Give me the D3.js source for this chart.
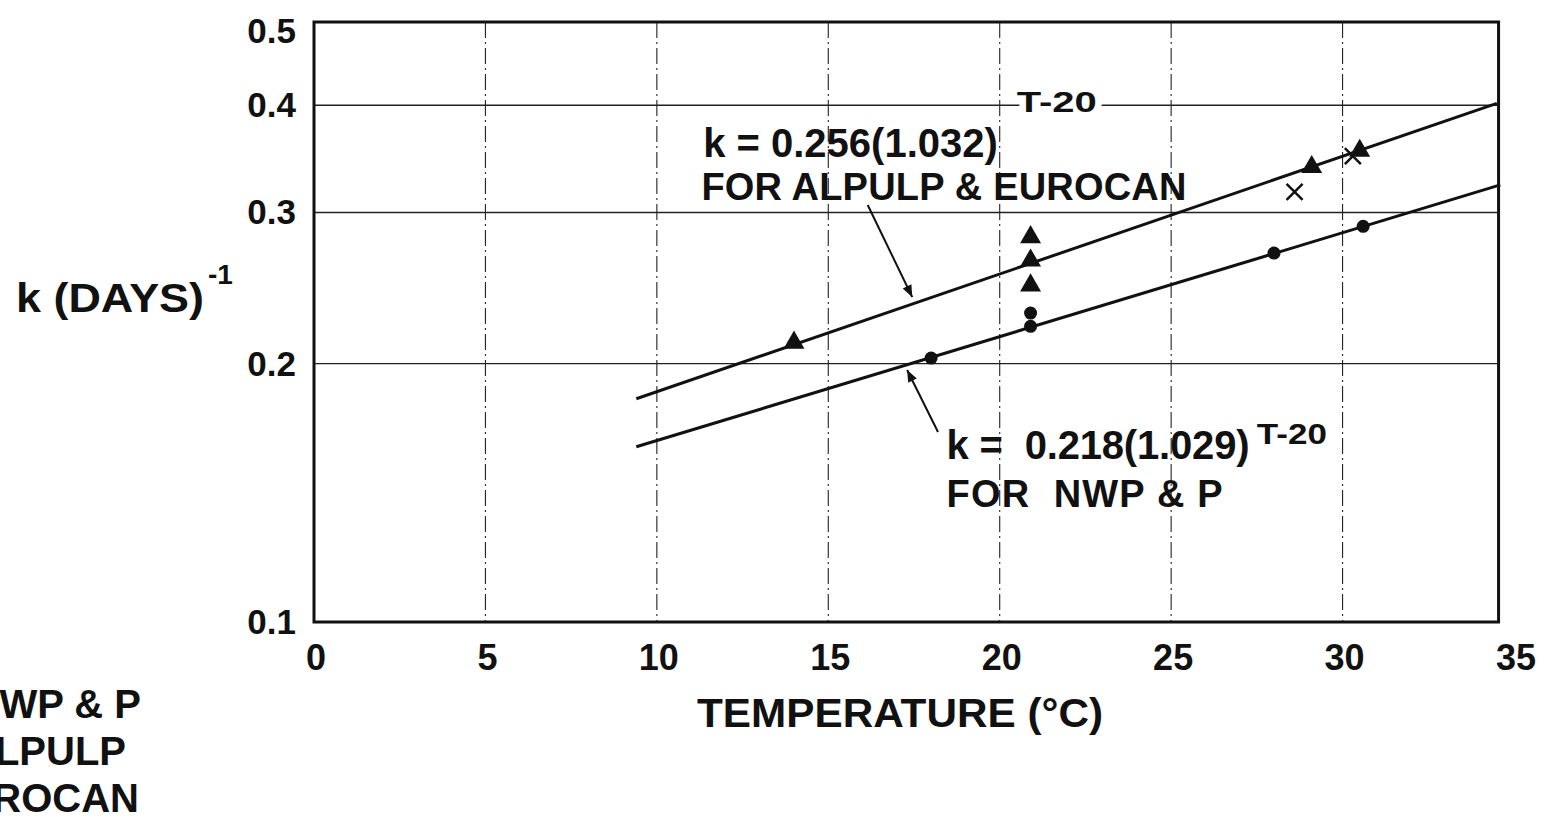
<!DOCTYPE html>
<html>
<head>
<meta charset="utf-8">
<script src="https://cdn.jsdelivr.net/npm/d3@7"></script>
<style>
  body { margin: 0; background: #fff; }
  text { font-family: "Liberation Sans", Arial, sans-serif; font-weight: bold; fill: #111; white-space: pre; }
  .halo { paint-order: stroke; stroke: #fff; stroke-width: 10px; stroke-linejoin: round; }
</style>
</head>
<body>
<div id="viz"></div>
<script>
// size of the page
const width = 1557
const height = 822

// data (temperature in deg C, k in 1/days)
const xTicks = [0, 5, 10, 15, 20, 25, 30, 35]
const yTicks = [0.1, 0.2, 0.3, 0.4, 0.5]
const xGrid = [5, 10, 15, 20, 25, 30]
const yGrid = [0.2, 0.3, 0.4]
const frameRight = 34.55

// NWP & P (circles)
const nwpT = [18.0, 20.9, 20.9, 28.0, 30.6]
const nwpK = [0.203, 0.229, 0.221, 0.269, 0.289]
// ALPULP (triangles)
const alpulpT = [14.0, 20.9, 20.9, 20.9, 29.1, 30.5]
const alpulpK = [0.211, 0.280, 0.263, 0.246, 0.338, 0.353]
// EUROCAN (crosses)
const eurocanT = [28.6, 30.3]
const eurocanK = [0.317, 0.349]

// fitted lines, end points as drawn
const fitUpper = [[9.4, 0.182], [34.5, 0.402]]
const fitLower = [[9.4, 0.160], [34.6, 0.323]]

// arrows from the labels to the lines
const arrowUpper = [[16.15, 0.306], [17.45, 0.239]]
const arrowLower = [[18.2, 0.1665], [17.3, 0.1966]]

const legendNames = ["NWP & P", "ALPULP", "EUROCAN"]

// scales
const x = d3.scaleLinear().domain([0, 35]).range([314, 1514])
const y = d3.scaleLog().domain([0.1, 0.5]).range([622, 22])

const svg = d3.select("#viz")
    .append("svg")
    .attr("width", width)
    .attr("height", height)

// arrow head
svg.append("defs").append("marker")
    .attr("id", "head")
    .attr("viewBox", "0 0 10 10")
    .attr("refX", 10).attr("refY", 5)
    .attr("markerWidth", 22).attr("markerHeight", 12)
    .attr("markerUnits", "userSpaceOnUse")
    .attr("orient", "auto")
    .append("path")
    .attr("d", "M0,1 L10,5 L0,9 Z")
    .attr("fill", "#111")

// grid lines
svg.append("g").selectAll("line")
    .data(xGrid).enter().append("line")
    .attr("x1", d => x(d)).attr("x2", d => x(d))
    .attr("y1", y(0.5)).attr("y2", y(0.1))
    .attr("stroke", "#222")
    .attr("stroke-width", 1.1)
    .attr("stroke-dasharray", "16,4,2,4")

svg.append("g").selectAll("line")
    .data(yGrid).enter().append("line")
    .attr("x1", x(0)).attr("x2", x(frameRight))
    .attr("y1", d => y(d)).attr("y2", d => y(d))
    .attr("stroke", "#222")
    .attr("stroke-width", 1.4)

// frame
svg.append("rect")
    .attr("x", x(0)).attr("y", y(0.5))
    .attr("width", x(frameRight) - x(0))
    .attr("height", y(0.1) - y(0.5))
    .attr("fill", "none")
    .attr("stroke", "#111")
    .attr("stroke-width", 3)

// x tick labels
svg.append("g").selectAll("text")
    .data(xTicks).enter().append("text")
    .attr("x", d => x(d) + 2)
    .attr("y", y(0.1) + 48)
    .attr("text-anchor", "middle")
    .attr("font-size", 36)
    .text(d => d)

// y tick labels
svg.append("g").selectAll("text")
    .data(yTicks).enter().append("text")
    .attr("x", x(0) - 18)
    .attr("y", d => y(d) + (d == 0.5 ? 21 : 12))
    .attr("text-anchor", "end")
    .attr("font-size", 35)
    .text(d => d.toFixed(1))

// axis titles
svg.append("text")
    .attr("x", 900).attr("y", 727)
    .attr("text-anchor", "middle")
    .attr("font-size", 40)
    .attr("textLength", 406)
    .attr("lengthAdjust", "spacingAndGlyphs")
    .text("TEMPERATURE (°C)")

svg.append("text")
    .attr("x", 16).attr("y", 312)
    .attr("font-size", 40)
    .attr("textLength", 188)
    .attr("lengthAdjust", "spacingAndGlyphs")
    .text("k (DAYS)")
svg.append("text")
    .attr("x", 208).attr("y", 284)
    .attr("font-size", 28)
    .text("-1")

// fitted lines
const line = d3.line().x(d => x(d[0])).y(d => y(d[1]))
svg.append("path").datum(fitUpper)
    .attr("d", line).attr("fill", "none")
    .attr("stroke", "#111").attr("stroke-width", 3)
svg.append("path").datum(fitLower)
    .attr("d", line).attr("fill", "none")
    .attr("stroke", "#111").attr("stroke-width", 3)

// arrows
svg.append("path").datum(arrowUpper)
    .attr("d", line).attr("stroke", "#111").attr("stroke-width", 2)
    .attr("marker-end", "url(#head)")
svg.append("path").datum(arrowLower)
    .attr("d", line).attr("stroke", "#111").attr("stroke-width", 2)
    .attr("marker-end", "url(#head)")

// circles
svg.append("g").selectAll("circle")
    .data(d3.range(nwpT.length)).enter().append("circle")
    .attr("cx", i => x(nwpT[i]))
    .attr("cy", i => y(nwpK[i]))
    .attr("r", 6.5)
    .attr("fill", "#111")

// triangles
svg.append("g").selectAll("path")
    .data(d3.range(alpulpT.length)).enter().append("path")
    .attr("d", d3.symbol().type(d3.symbolTriangle).size(190))
    .attr("transform", i => "translate(" + x(alpulpT[i]) + "," + (y(alpulpK[i]) - 1) + ")")
    .attr("fill", "#111")

// crosses
svg.append("g").selectAll("path")
    .data(d3.range(eurocanT.length)).enter().append("path")
    .attr("d", "M-8,-8 L8,8 M-8,8 L8,-8")
    .attr("transform", i => "translate(" + x(eurocanT[i]) + "," + y(eurocanK[i]) + ")")
    .attr("stroke", "#111")
    .attr("stroke-width", 2.5)

// equation labels
svg.append("text")
    .attr("x", x(11.35)).attr("y", y(0.348))
    .attr("font-size", 40)
    .text("k = 0.256(1.032)")
svg.append("text")
    .attr("class", "halo")
    .attr("x", x(20.5)).attr("y", y(0.393))
    .attr("font-size", 30)
    .attr("textLength", 80)
    .attr("lengthAdjust", "spacingAndGlyphs")
    .text("T-20")

svg.append("text")
    .attr("x", x(11.3)).attr("y", y(0.310))
    .attr("font-size", 38)
    .attr("textLength", 485)
    .text("FOR ALPULP & EUROCAN")

svg.append("text")
    .attr("x", x(18.45)).attr("y", y(0.155))
    .attr("font-size", 40)
    .attr("textLength", 303)
    .text("k =  0.218(1.029)")
svg.append("text")
    .attr("x", x(27.5)).attr("y", y(0.161))
    .attr("font-size", 30)
    .attr("textLength", 70)
    .attr("lengthAdjust", "spacingAndGlyphs")
    .text("T-20")

svg.append("text")
    .attr("x", x(18.45)).attr("y", y(0.136))
    .attr("font-size", 38)
    .attr("textLength", 276)
    .text("FOR  NWP & P")

// legend, cut off at the left edge of the page as in the source
svg.append("g").selectAll("text")
    .data(legendNames).enter().append("text")
    .attr("x", (d, i) => [141, 126, 139][i])
    .attr("y", (d, i) => 718 + i * 47)
    .attr("text-anchor", "end")
    .attr("font-size", 40)
    .text(d => d)
</script>
</body>
</html>
